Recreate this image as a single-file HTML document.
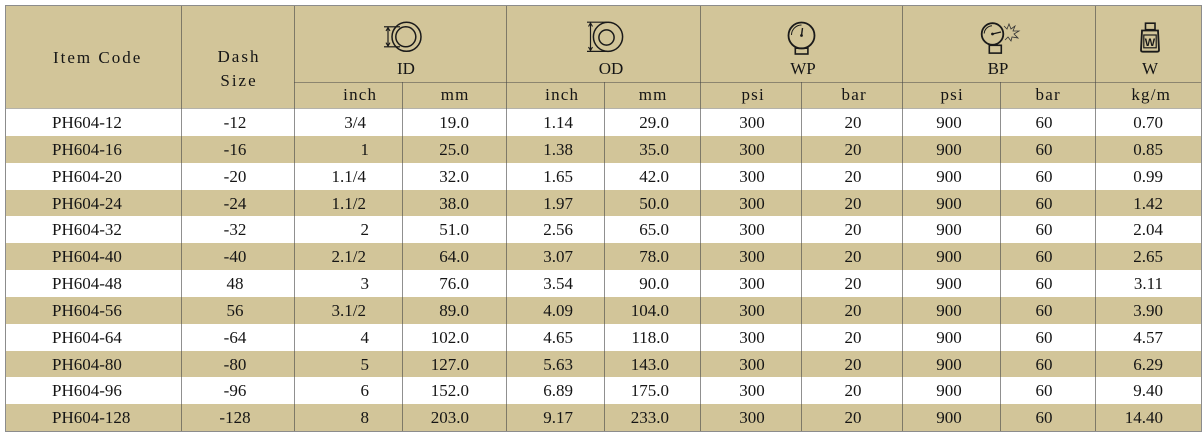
<!DOCTYPE html>
<html><head><meta charset="utf-8">
<style>
html,body{margin:0;padding:0;background:#fff;}
body{width:1204px;height:434px;position:relative;overflow:hidden;font-family:"Liberation Serif",serif;font-size:17px;color:#151515;}
.bg{position:absolute;}
.r{position:absolute;left:5px;width:1196px;}
.r span{position:absolute;top:4.3px;line-height:20px;white-space:nowrap;}
.tan{background:#d2c599;}
.wht{background:#fff;}
.a{left:47px}
.b{left:180px;width:100px;text-align:center}
.c{right:832px}
.cf{right:835px}
.d{right:732px}
.e{right:628px}
.f{right:532px}
.g{left:697px;width:100px;text-align:center}
.h{left:798px;width:100px;text-align:center}
.i{left:894px;width:100px;text-align:center}
.j{left:989px;width:100px;text-align:center}
.k{right:38px}
.t{position:absolute;line-height:20px;white-space:nowrap;}
.ctr{width:120px;text-align:center;}
.sub{letter-spacing:1.2px;padding-left:1.2px;}
.vl{position:absolute;width:1px;background:rgba(70,70,70,0.6);}
.hl{position:absolute;height:1px;}
</style></head>
<body>
<!-- header background -->
<div class="bg tan" style="left:5px;top:5px;width:1196px;height:104px;"></div>

<!-- data rows -->
<div class="r wht" style="top:109px;height:27px;"><span class="a">PH604-12</span><span class="b">-12</span><span class="cf">3/4</span><span class="d">19.0</span><span class="e">1.14</span><span class="f">29.0</span><span class="g">300</span><span class="h">20</span><span class="i">900</span><span class="j">60</span><span class="k">0.70</span></div>
<div class="r tan" style="top:136px;height:27px;"><span class="a">PH604-16</span><span class="b">-16</span><span class="c">1</span><span class="d">25.0</span><span class="e">1.38</span><span class="f">35.0</span><span class="g">300</span><span class="h">20</span><span class="i">900</span><span class="j">60</span><span class="k">0.85</span></div>
<div class="r wht" style="top:163px;height:27px;"><span class="a">PH604-20</span><span class="b">-20</span><span class="cf">1.1/4</span><span class="d">32.0</span><span class="e">1.65</span><span class="f">42.0</span><span class="g">300</span><span class="h">20</span><span class="i">900</span><span class="j">60</span><span class="k">0.99</span></div>
<div class="r tan" style="top:190px;height:26px;"><span class="a">PH604-24</span><span class="b">-24</span><span class="cf">1.1/2</span><span class="d">38.0</span><span class="e">1.97</span><span class="f">50.0</span><span class="g">300</span><span class="h">20</span><span class="i">900</span><span class="j">60</span><span class="k">1.42</span></div>
<div class="r wht" style="top:216px;height:27px;"><span class="a">PH604-32</span><span class="b">-32</span><span class="c">2</span><span class="d">51.0</span><span class="e">2.56</span><span class="f">65.0</span><span class="g">300</span><span class="h">20</span><span class="i">900</span><span class="j">60</span><span class="k">2.04</span></div>
<div class="r tan" style="top:243px;height:27px;"><span class="a">PH604-40</span><span class="b">-40</span><span class="cf">2.1/2</span><span class="d">64.0</span><span class="e">3.07</span><span class="f">78.0</span><span class="g">300</span><span class="h">20</span><span class="i">900</span><span class="j">60</span><span class="k">2.65</span></div>
<div class="r wht" style="top:270px;height:27px;"><span class="a">PH604-48</span><span class="b">48</span><span class="c">3</span><span class="d">76.0</span><span class="e">3.54</span><span class="f">90.0</span><span class="g">300</span><span class="h">20</span><span class="i">900</span><span class="j">60</span><span class="k">3.11</span></div>
<div class="r tan" style="top:297px;height:27px;"><span class="a">PH604-56</span><span class="b">56</span><span class="cf">3.1/2</span><span class="d">89.0</span><span class="e">4.09</span><span class="f">104.0</span><span class="g">300</span><span class="h">20</span><span class="i">900</span><span class="j">60</span><span class="k">3.90</span></div>
<div class="r wht" style="top:324px;height:27px;"><span class="a">PH604-64</span><span class="b">-64</span><span class="c">4</span><span class="d">102.0</span><span class="e">4.65</span><span class="f">118.0</span><span class="g">300</span><span class="h">20</span><span class="i">900</span><span class="j">60</span><span class="k">4.57</span></div>
<div class="r tan" style="top:351px;height:26px;"><span class="a">PH604-80</span><span class="b">-80</span><span class="c">5</span><span class="d">127.0</span><span class="e">5.63</span><span class="f">143.0</span><span class="g">300</span><span class="h">20</span><span class="i">900</span><span class="j">60</span><span class="k">6.29</span></div>
<div class="r wht" style="top:377px;height:27px;"><span class="a">PH604-96</span><span class="b">-96</span><span class="c">6</span><span class="d">152.0</span><span class="e">6.89</span><span class="f">175.0</span><span class="g">300</span><span class="h">20</span><span class="i">900</span><span class="j">60</span><span class="k">9.40</span></div>
<div class="r tan" style="top:404px;height:27px;"><span class="a">PH604-128</span><span class="b">-128</span><span class="c">8</span><span class="d">203.0</span><span class="e">9.17</span><span class="f">233.0</span><span class="g">300</span><span class="h">20</span><span class="i">900</span><span class="j">60</span><span class="k">14.40</span></div>

<!-- header texts -->
<div class="t" style="left:53px;top:48.3px;letter-spacing:2px;">Item Code</div>
<div class="t ctr" style="left:177px;top:47.3px;letter-spacing:2px;padding-left:2px;">Dash</div>
<div class="t ctr" style="left:177px;top:71.3px;letter-spacing:2px;padding-left:2px;">Size</div>

<div class="t ctr" style="left:346px;top:59.3px;">ID</div>
<div class="t ctr" style="left:551px;top:59.3px;">OD</div>
<div class="t ctr" style="left:743px;top:59.3px;">WP</div>
<div class="t ctr" style="left:938px;top:59.3px;">BP</div>
<div class="t ctr" style="left:1090px;top:59.3px;">W</div>

<div class="t ctr sub" style="left:299px;top:85.3px;">inch</div>
<div class="t ctr sub" style="left:394px;top:85.3px;">mm</div>
<div class="t ctr sub" style="left:501px;top:85.3px;">inch</div>
<div class="t ctr sub" style="left:592px;top:85.3px;">mm</div>
<div class="t ctr sub" style="left:692px;top:85.3px;">psi</div>
<div class="t ctr sub" style="left:793px;top:85.3px;">bar</div>
<div class="t ctr sub" style="left:891px;top:85.3px;">psi</div>
<div class="t ctr sub" style="left:987px;top:85.3px;">bar</div>
<div class="t ctr sub" style="left:1090px;top:85.3px;">kg/m</div>

<!-- lines -->
<div class="hl" style="left:5px;top:108px;width:1196px;background:#b5b3ab;"></div>
<div class="hl" style="left:294px;top:82px;width:907px;background:rgba(70,70,70,0.5);"></div>

<div class="vl" style="left:181px;top:5px;height:426px;"></div>
<div class="vl" style="left:294px;top:5px;height:426px;"></div>
<div class="vl" style="left:506px;top:5px;height:426px;"></div>
<div class="vl" style="left:700px;top:5px;height:426px;"></div>
<div class="vl" style="left:902px;top:5px;height:426px;"></div>
<div class="vl" style="left:1095px;top:5px;height:426px;"></div>
<div class="vl" style="left:402px;top:82px;height:349px;"></div>
<div class="vl" style="left:604px;top:82px;height:349px;"></div>
<div class="vl" style="left:801px;top:82px;height:349px;"></div>
<div class="vl" style="left:1000px;top:82px;height:349px;"></div>

<!-- outer border -->
<div style="position:absolute;left:5px;top:5px;width:1195px;height:425px;border:1px solid #8c8c8c;"></div>

<!-- icons -->
<svg style="position:absolute;left:0;top:0;" width="1204" height="434" viewBox="0 0 1204 434" xmlns="http://www.w3.org/2000/svg">
  <g fill="none" stroke="#1a1a1a">
    <!-- ID icon -->
    <circle cx="406.5" cy="36.8" r="14.5" stroke-width="1.5"/>
    <circle cx="405.8" cy="36.8" r="10" stroke-width="1.5"/>
    <line x1="384" y1="26.8" x2="400" y2="26.8" stroke-width="1.2"/>
    <line x1="384" y1="46.8" x2="400" y2="46.8" stroke-width="1.2"/>
    <line x1="388" y1="28" x2="388" y2="45.6" stroke-width="1.2"/>
    <path d="M386 31 L388 27.5 L390 31 M386 42.6 L388 46.1 L390 42.6" stroke-width="1.1"/>
    <!-- OD icon -->
    <circle cx="608" cy="36.8" r="14.6" stroke-width="1.5"/>
    <circle cx="606.5" cy="37.5" r="7.6" stroke-width="1.5"/>
    <line x1="587" y1="22.2" x2="607" y2="22.2" stroke-width="1.2"/>
    <line x1="587" y1="51.4" x2="607" y2="51.4" stroke-width="1.2"/>
    <line x1="590.5" y1="23.5" x2="590.5" y2="50.2" stroke-width="1.2"/>
    <path d="M588.5 26.5 L590.5 23 L592.5 26.5 M588.5 47 L590.5 50.5 L592.5 47" stroke-width="1.1"/>
    <!-- WP gauge -->
    <circle cx="801.5" cy="35.5" r="13" stroke-width="1.8"/>
    <path d="M791.5 35 A10 10 0 0 1 801.5 25" stroke-width="1"/>
    <rect x="795.3" y="48.2" width="12.6" height="5.8" stroke-width="1.6"/>
    <line x1="801.5" y1="35.5" x2="802.5" y2="28" stroke-width="1.4"/>
    <circle cx="801.5" cy="35.5" r="1.4" fill="#1a1a1a" stroke="none"/>
    <!-- BP gauge -->
    <circle cx="992.5" cy="34" r="10.8" stroke-width="1.8"/>
    <path d="M984.2 33.5 A8.3 8.3 0 0 1 992 25.7" stroke-width="1"/>
    <rect x="989.3" y="45.3" width="12" height="7.8" stroke-width="1.6"/>
    <line x1="992.5" y1="34" x2="1001" y2="32" stroke-width="1.4"/>
    <circle cx="992.5" cy="34" r="1.4" fill="#1a1a1a" stroke="none"/>
    <path d="M1004 26 L1007 29 L1009 24 L1011 29 L1015 26 L1013 31 L1019 31 L1014 34 L1018 38 L1012 37 L1011 41 L1008 37 L1005 40" stroke-width="0.8" stroke="#333"/>
    <!-- W weight -->
    <rect x="1145.5" y="23.2" width="9.5" height="6.5" stroke-width="1.6"/>
    <path d="M1142 30.5 L1158 30.5 L1159 50 Q1159 51.7 1157.3 51.7 L1142.7 51.7 Q1141 51.7 1141 50 Z" stroke-width="1.8"/>
    <rect x="1143.8" y="35" width="12.4" height="12.8" stroke-width="1.2"/>
  </g>
  <text x="1150" y="46" font-family="Liberation Sans, sans-serif" font-weight="bold" font-size="11" text-anchor="middle" fill="#1a1a1a">W</text>
</svg>
</body></html>
